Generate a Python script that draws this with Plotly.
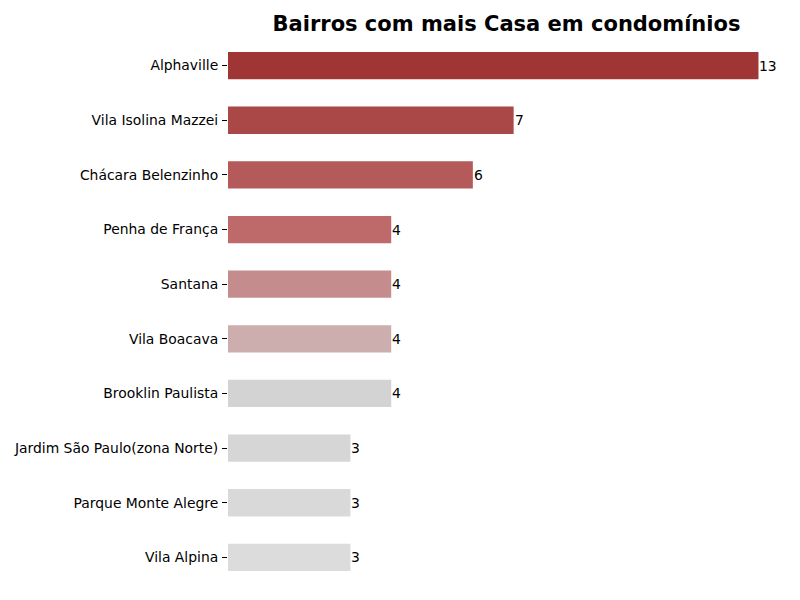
import plotly.graph_objects as go

bairros = ["Alphaville", "Vila Isolina Mazzei", "Chácara Belenzinho", "Penha de França",
           "Santana", "Vila Boacava", "Brooklin Paulista", "Jardim São Paulo(zona Norte)",
           "Parque Monte Alegre", "Vila Alpina"]
contagem = [13, 7, 6, 4, 4, 4, 4, 3, 3, 3]
cores = ["#A03535", "#AA4747", "#B45A5A", "#BE6A6A", "#C48C8C", "#CCAEAE",
         "#D3D3D3", "#D6D6D6", "#D9D9D9", "#DCDCDC"]

fig = go.Figure(go.Bar(
    x=contagem, y=bairros, orientation="h",
    marker=dict(color=cores, line=dict(width=0)),
    width=0.5,
    hoverinfo="x+y",
))

for b, v in zip(bairros, contagem):
    fig.add_annotation(x=v, y=b, xref="x", yref="y", text=str(v), showarrow=False,
                       xanchor="left", yanchor="middle", xshift=-1,
                       font=dict(family="DejaVu Sans", size=13.9, color="black"))

fig.update_layout(
    width=800, height=600,
    plot_bgcolor="white", paper_bgcolor="white",
    margin=dict(l=228, r=15, t=26, b=3, autoexpand=False),
    showlegend=False,
    title=dict(text="<b>Bairros com mais Casa em condomínios</b>",
               font=dict(family="DejaVu Sans", size=21, color="black"),
               x=506.5 / 800, xanchor="center", xref="container",
               y=1 - 24 / 600, yanchor="middle", yref="container",
               automargin=False),
    font=dict(family="DejaVu Sans", size=13.9, color="black"),
)
fig.update_xaxes(range=[0, 13.65], visible=False, showgrid=False, automargin=False)
fig.update_yaxes(range=[9.725, -0.725], showgrid=False, showline=False, automargin=False,
                 ticks="outside", ticklen=5, tickcolor="black", tickwidth=1,
                 ticklabelstandoff=1,
                 tickfont=dict(family="DejaVu Sans", size=13.9, color="black"))

fig.write_html("out.html", config={"displayModeBar": False},
               post_script="document.body.style.margin='0';")
